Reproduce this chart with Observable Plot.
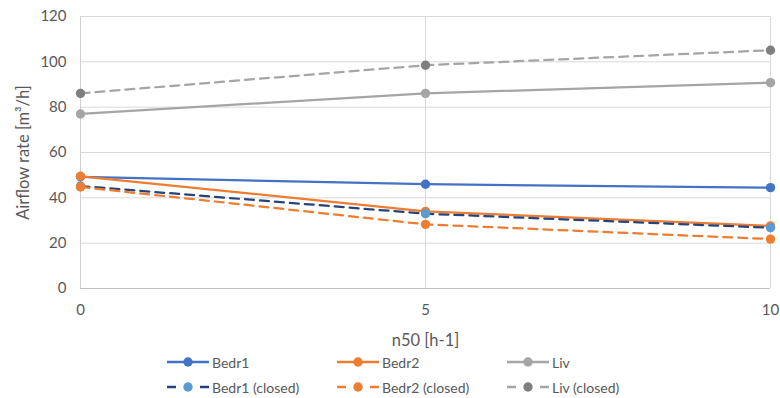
<!DOCTYPE html>
<html><head><meta charset="utf-8">
<script src="https://cdn.jsdelivr.net/npm/d3@7"></script>
<script src="https://cdn.jsdelivr.net/npm/@observablehq/plot@0.6"></script>
<style>
body{margin:0;background:#fff;font-family:Lato,"Liberation Sans",sans-serif;}
#wrap{position:relative;width:780px;height:398px;overflow:hidden;}
.leg{position:absolute;display:flex;align-items:center;font-size:14px;color:#595959;height:20px;}
.leg svg{margin-right:3px;}
</style>
</head><body><div id="wrap"><div id="chart"></div></div>
<script>
const n50 = [0, 5, 10];
const seriesNames = ["Bedr1", "Bedr2", "Liv", "Bedr1 (closed)", "Bedr2 (closed)", "Liv (closed)"];
const bedr1 = [49.3, 46.0, 44.5];
const bedr2 = [49.5, 34.0, 27.6];
const liv = [77.0, 86.1, 90.8];
const bedr1Closed = [45.2, 33.0, 26.8];
const bedr2Closed = [44.8, 28.3, 21.8];
const livClosed = [86.1, 98.5, 105.1];
const yTicks = [0, 20, 40, 60, 80, 100, 120];
const xTicks = [0, 5, 10];
const yTitle = "Airflow rate [m³/h]";
const xTitle = "n50 [h-1]";

const values = [bedr1, bedr2, liv, bedr1Closed, bedr2Closed, livClosed];
const styles = [
  {line: "#4472C4", dot: "#4472C4", dash: null},
  {line: "#ED7D31", dot: "#ED7D31", dash: null},
  {line: "#A5A5A5", dot: "#A5A5A5", dash: null},
  {line: "#264478", dot: "#5B9BD5", dash: "9,6"},
  {line: "#ED7D31", dot: "#ED7D31", dash: "9,6"},
  {line: "#A5A5A5", dot: "#7F7F7F", dash: "9,6"}
];
const tables = values.map((vals, i) => n50.map((x, j) => ({x, y: vals[j], series: seriesNames[i]})));

const marks = [
  Plot.gridY(yTicks, {stroke: "#d9d9d9", strokeOpacity: 1, strokeWidth: 1}),
  Plot.gridX([5, 10], {stroke: "#d9d9d9", strokeOpacity: 1, strokeWidth: 1}),
  Plot.ruleY([0], {stroke: "#bfbfbf", strokeWidth: 1}),
  Plot.ruleX([0], {stroke: "#d0d0d0", strokeWidth: 1}),
  Plot.axisY(yTicks, {tickSize: 0, tickPadding: 14, fontSize: 15, color: "#595959", label: null}),
  Plot.axisX(xTicks, {tickSize: 0, tickPadding: 16, fontSize: 15, color: "#595959", label: null}),
  Plot.text([yTitle], {text: d => d, frameAnchor: "left", dx: -57, rotate: -90, fontSize: 16.5, fill: "#595959", textAnchor: "middle"}),
  Plot.text([xTitle], {text: d => d, frameAnchor: "bottom", dy: 52, fontSize: 16.5, fill: "#595959", lineAnchor: "middle"})
];
tables.forEach((t, i) => {
  const s = styles[i];
  marks.push(Plot.line(t, {x: "x", y: "y", stroke: s.line, strokeWidth: 2.25, strokeDasharray: s.dash ?? undefined}));
  marks.push(Plot.dot(t, {x: "x", y: "y", r: 4.7, fill: s.dot, stroke: "none"}));
});

const chart = Plot.plot({
  width: 780, height: 350,
  marginLeft: 80, marginRight: 10, marginTop: 16, marginBottom: 62,
  x: {domain: [0, 10]},
  y: {domain: [0, 120]},
  style: {fontFamily: "Lato, 'Liberation Sans', sans-serif", background: "#fff", overflow: "visible"},
  marks
});
document.getElementById("chart").appendChild(chart);

// legend
const wrap = document.getElementById("wrap");
const cols = [167, 337, 507];
const rows = [352, 377];
seriesNames.forEach((name, i) => {
  const s = styles[i];
  const d = document.createElement("div");
  d.className = "leg";
  d.style.left = cols[i % 3] + "px";
  d.style.top = rows[Math.floor(i / 3)] + "px";
  const sw = d3.create("svg").attr("width", 42).attr("height", 20);
  if (s.dash) {
    sw.append("line").attr("x1", 0).attr("x2", 9).attr("y1", 10).attr("y2", 10).attr("stroke", s.line).attr("stroke-width", 2.5);
    sw.append("line").attr("x1", 33).attr("x2", 42).attr("y1", 10).attr("y2", 10).attr("stroke", s.line).attr("stroke-width", 2.5);
  } else {
    sw.append("line").attr("x1", 0).attr("x2", 42).attr("y1", 10).attr("y2", 10).attr("stroke", s.line).attr("stroke-width", 2.5);
  }
  sw.append("circle").attr("cx", 21).attr("cy", 10).attr("r", 4.7).attr("fill", s.dot);
  d.appendChild(sw.node());
  const sp = document.createElement("span");
  sp.textContent = name;
  d.appendChild(sp);
  wrap.appendChild(d);
});
</script>
</body></html>
